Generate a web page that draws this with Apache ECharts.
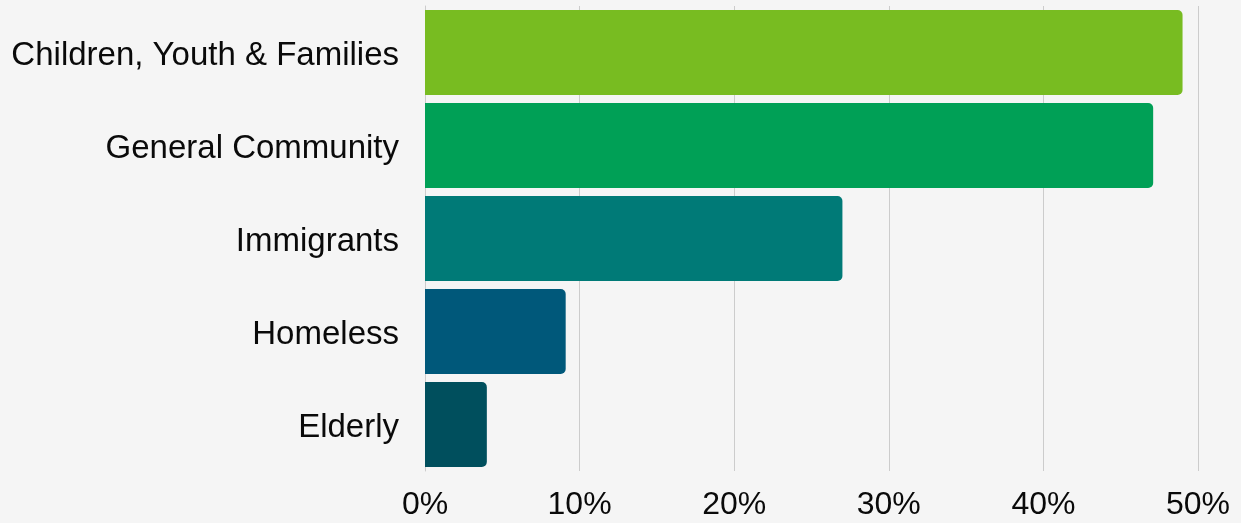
<!DOCTYPE html>
<html>
<head>
<meta charset="utf-8">
<script src="https://cdn.jsdelivr.net/npm/echarts@6/dist/echarts.min.js"></script>
<style>
html,body{margin:0;padding:0;background:#f5f5f5;}
#c{width:1241px;height:523px;}
</style>
</head>
<body>
<div id="c"></div>
<script>
const categories = ["Children, Youth & Families", "General Community", "Immigrants", "Homeless", "Elderly"];
const values = [49, 47.1, 27, 9.1, 4];
const barColors = ["#78BC21", "#00A056", "#007A77", "#00587A", "#004F5D"];
const xTicks = [0, 10, 20, 30, 40, 50];

const chart = echarts.init(document.getElementById('c'), null, {renderer: 'canvas'});
chart.setOption({
  backgroundColor: '#f5f5f5',
  animation: false,
  grid: {left: 425, right: 43, top: 6, bottom: 52, containLabel: false},
  xAxis: {
    type: 'value',
    min: xTicks[0], max: xTicks[xTicks.length - 1], interval: 10,
    axisLine: {show: false},
    axisTick: {show: false},
    splitLine: {show: true, lineStyle: {color: '#cccccc', width: 1}},
    axisLabel: {
      formatter: v => v + '%',
      fontFamily: '"Liberation Sans", Arial, sans-serif',
      fontSize: 32, color: '#0a0a0a', margin: 18
    }
  },
  yAxis: {
    type: 'category',
    data: categories,
    inverse: true,
    axisLine: {show: true, lineStyle: {color: '#cccccc', width: 1}},
    axisTick: {show: false},
    axisLabel: {
      formatter: v => '{a|' + v + '}',
      rich: {a: {
        fontFamily: '"Liberation Sans", Arial, sans-serif',
        fontSize: 33, color: '#0a0a0a', padding: [7, 0, 0, 0]
      }},
      margin: 26
    }
  },
  series: [{
    type: 'bar',
    data: values.map((v, i) => ({value: v, itemStyle: {color: barColors[i]}})),
    barCategoryGap: '8.6%',
    itemStyle: {borderRadius: [0, 5, 5, 0]}
  }]
});
</script>
</body>
</html>
